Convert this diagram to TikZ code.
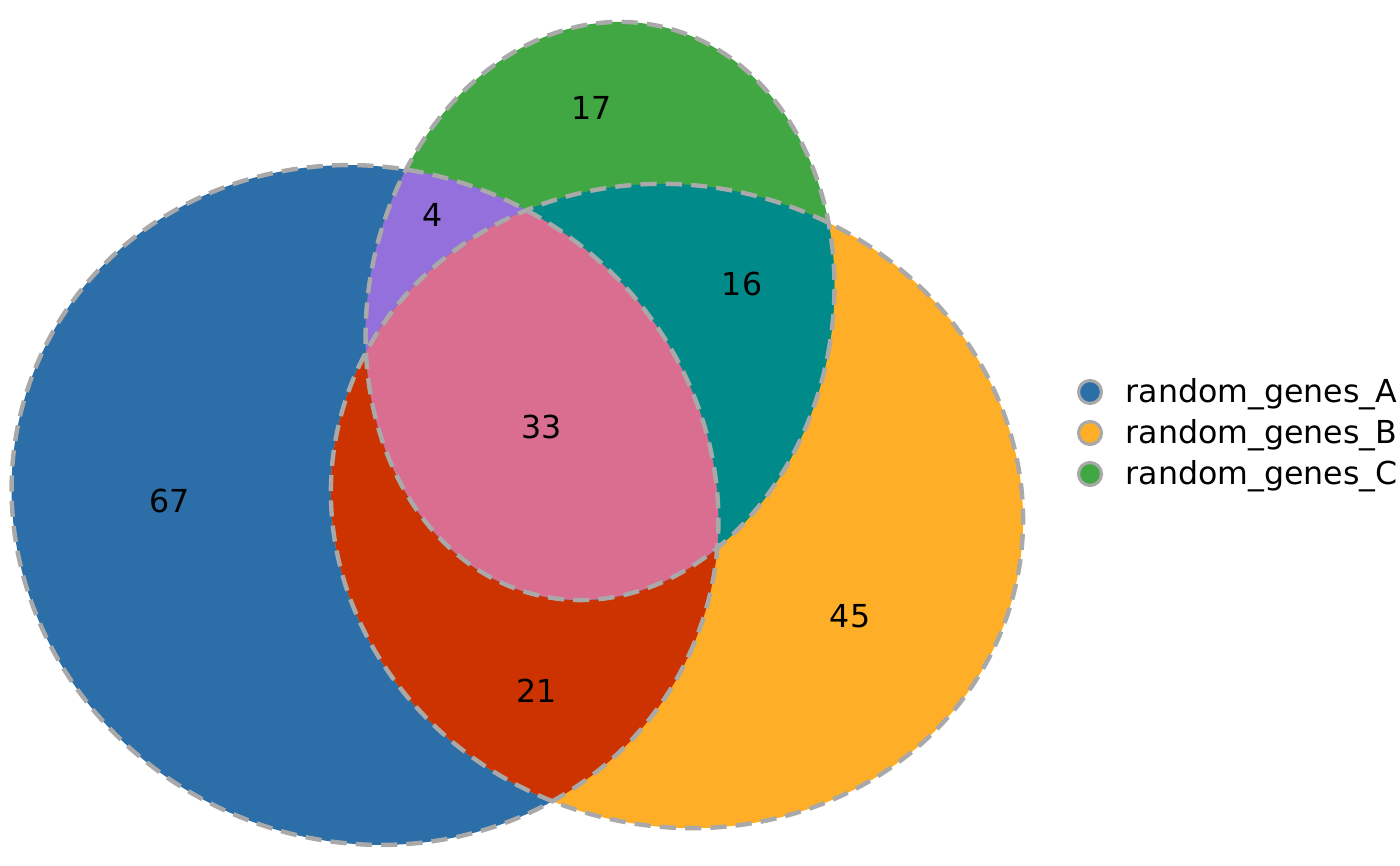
\documentclass[tikz,border=0pt]{standalone}
\usepackage{fontspec}
\setmainfont{DejaVu Sans}
\definecolor{setA}{HTML}{2B6EA8}
\definecolor{setB}{HTML}{FEAE27}
\definecolor{setC}{HTML}{41A742}
\definecolor{setAB}{HTML}{CC3300}
\definecolor{setAC}{HTML}{9370DB}
\definecolor{setBC}{HTML}{008B8A}
\definecolor{setABC}{HTML}{D96E91}
\definecolor{edgegray}{HTML}{A9A9A9}
\begin{document}
\begin{tikzpicture}[
        every node/.style = {font=\fontsize{9}{11}\selectfont},
        outline/.style = {draw=edgegray, line width=1.25pt, dash pattern=on 4.6pt off 2.6pt},
        rotA/.style = {rotate around={-25:(cA)}},
        rotB/.style = {rotate around={-15.6:(cB)}},
        rotC/.style = {rotate around={-11:(cC)}},
        count/.style = {inner sep=0pt},
        legdot/.style = {circle, fill=#1, draw=edgegray, line width=0.9pt, minimum size=0.23cm, inner sep=0pt},
        legtext/.style = {anchor=base west, inner sep=0pt}
    ]
    \useasboundingbox (0,0) rectangle (14,8.66);

    % centres of the three sets
    \coordinate (cA) at (3.65, 3.61);
    \coordinate (cB) at (6.77, 3.60);
    \coordinate (cC) at (6.00, 5.55);

    % single sets
    \fill[setA, rotA] (cA) ellipse [x radius=3.57, y radius=3.36];
    \fill[setB, rotB] (cB) ellipse [x radius=3.48, y radius=3.20];
    \fill[setC, rotC] (cC) ellipse [x radius=2.32, y radius=2.91];

    % pairwise overlaps
    \begin{scope}
        \clip[rotA] (cA) ellipse [x radius=3.57, y radius=3.36];
        \fill[setAB, rotB] (cB) ellipse [x radius=3.48, y radius=3.20];
        \fill[setAC, rotC] (cC) ellipse [x radius=2.32, y radius=2.91];
    \end{scope}
    \begin{scope}
        \clip[rotB] (cB) ellipse [x radius=3.48, y radius=3.20];
        \fill[setBC, rotC] (cC) ellipse [x radius=2.32, y radius=2.91];
        % all three
        \clip[rotA] (cA) ellipse [x radius=3.57, y radius=3.36];
        \fill[setABC, rotC] (cC) ellipse [x radius=2.32, y radius=2.91];
    \end{scope}

    % dashed outlines
    \draw[outline, rotA] (cA) ellipse [x radius=3.57, y radius=3.36];
    \draw[outline, rotB] (cB) ellipse [x radius=3.48, y radius=3.20];
    \draw[outline, rotC] (cC) ellipse [x radius=2.32, y radius=2.91];

    % counts
    \node[count] (n67)  at (1.70, 3.65) {67};
    \node[count] (n45)  at (8.50, 2.50) {45};
    \node[count] (n17)  at (5.92, 7.58) {17};
    \node[count] (n21)  at (5.37, 1.75) {21};
    \node[count] (n4)   at (4.33, 6.51) {4};
    \node[count] (n16)  at (7.42, 5.82) {16};
    \node[count] (n33)  at (5.42, 4.39) {33};

    % legend
    \node[legdot=setA] (dotA) at (10.90, 4.74) {};
    \node[legdot=setB] (dotB) at (10.90, 4.33) {};
    \node[legdot=setC] (dotC) at (10.90, 3.92) {};
    \node[legtext] (labA) at (11.25, 4.63) {random\_genes\_A};
    \node[legtext] (labB) at (11.25, 4.22) {random\_genes\_B};
    \node[legtext] (labC) at (11.25, 3.81) {random\_genes\_C};

\end{tikzpicture}
\end{document}
